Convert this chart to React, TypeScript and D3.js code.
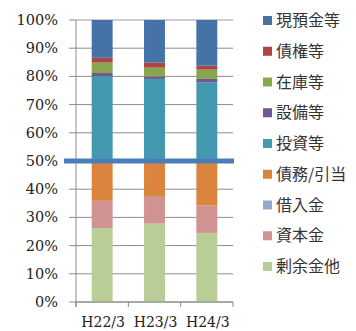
import React from "react";
import * as d3 from "d3";

const categories = ["H22/3", "H23/3", "H24/3"];
// stack order bottom -> top
const seriesNames = ["剰余金他", "資本金", "借入金", "債務/引当", "投資等", "設備等", "在庫等", "債権等", "現預金等"];
const seriesColors = ["#B9CD96", "#D19392", "#93A9CF", "#DB843D", "#4198AF", "#71588F", "#89A54E", "#AA4643", "#4572A7"];
const 剰余金他 = [26.2, 27.8, 24.5];
const 資本金 = [9.7, 9.8, 9.7];
const 借入金 = [0, 0, 0];
const 債務引当 = [14.1, 12.4, 15.8];
const 投資等 = [30.1, 29.1, 27.9];
const 設備等 = [1.1, 0.9, 1.2];
const 在庫等 = [3.7, 3.1, 3.3];
const 債権等 = [1.7, 1.8, 1.4];
const 現預金等 = [13.4, 15.1, 16.2];
const seriesValues = [剰余金他, 資本金, 借入金, 債務引当, 投資等, 設備等, 在庫等, 債権等, 現預金等];
const yTicks = [0, 10, 20, 30, 40, 50, 60, 70, 80, 90, 100];
const dividerValue = 50;

export default function App() {
  const W = 356, H = 331;
  const left = 76, right = 233, top = 20, bottom = 302;
  const x = d3.scaleBand<string>().domain(categories).range([left, right]).paddingInner(0.6).paddingOuter(0.3);
  const y = d3.scaleLinear().domain([0, 100]).range([bottom, top]);

  const rows = categories.map((c, i) => {
    const r: any = { cat: c };
    seriesNames.forEach((s, j) => (r[s] = seriesValues[j][i]));
    return r;
  });
  const stacked = d3.stack().keys(seriesNames)(rows);
  const step = x.step();
  const boundaries = [left, ...categories.map((c) => (x(c) as number) - x.paddingOuter() * 0 + x.bandwidth() / 2 + step / 2)];

  const legendY0 = 19, legendStep = 30.75;
  const legendOrder = seriesNames.map((_, i) => i).reverse();

  return (
    <svg width={W} height={H} style={{ position: "absolute", left: 0, top: 0, background: "#fff" }}>
      {/* gridlines */}
      {yTicks.map((t) => (
        <line key={"g" + t} x1={left} x2={right} y1={y(t)} y2={y(t)} stroke={t === 100 ? "#bdbdbd" : "#8c8c8c"} strokeWidth={t === 100 ? 1.5 : 1} />
      ))}
      {/* bars */}
      {stacked.map((layer, j) => (
        <g key={layer.key} fill={seriesColors[j]}>
          {layer.map((d, i) =>
            d[1] - d[0] > 0 ? (
              <rect key={i} x={x(categories[i])} y={y(d[1])} width={x.bandwidth()} height={y(d[0]) - y(d[1])} />
            ) : null
          )}
        </g>
      ))}
      {/* axes */}
      <line x1={left} x2={left} y1={top} y2={bottom + 5} stroke="#8c8c8c" />
      {yTicks.map((t) => (
        <line key={"t" + t} x1={left - 7} x2={left} y1={y(t)} y2={y(t)} stroke="#8c8c8c" />
      ))}
      <line x1={left} x2={right} y1={bottom} y2={bottom} stroke="#8c8c8c" />
      {boundaries.map((b, i) => (
        <line key={"xt" + i} x1={b} x2={b} y1={bottom} y2={bottom + 5} stroke="#8c8c8c" />
      ))}
      {/* divider */}
      <line x1={64} x2={234} y1={y(dividerValue)} y2={y(dividerValue)} stroke="#4A7EBB" strokeWidth={5} />
      {/* y labels */}
      {yTicks.map((t) => (
        <text key={"yl" + t} x={58} y={y(t)} textAnchor="end" dominantBaseline="central" fontFamily="DejaVu Serif" fontSize={14.5} fill="#222">
          {t}%
        </text>
      ))}
      {/* x labels */}
      {categories.map((c) => (
        <text key={c} x={(x(c) as number) + x.bandwidth() / 2 + 1} y={322} textAnchor="middle" dominantBaseline="central" fontFamily="DejaVu Serif" fontSize={14} fill="#222">
          {c}
        </text>
      ))}
      {/* legend */}
      {legendOrder.map((j, k) => {
        const cy = legendY0 + k * legendStep;
        return (
          <g key={"lg" + j}>
            <rect x={263} y={cy - 3} width={9} height={9} fill={seriesColors[j]} />
            <text x={276} y={cy} dominantBaseline="central" fontFamily="Noto Sans CJK JP" fontSize={16} fill="#333">
              {seriesNames[j]}
            </text>
          </g>
        );
      })}
    </svg>
  );
}
